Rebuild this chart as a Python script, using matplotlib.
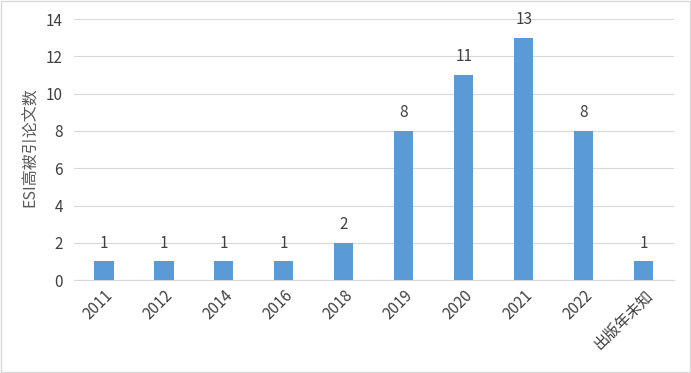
import matplotlib
matplotlib.use("Agg")
import matplotlib.pyplot as plt
from matplotlib.patches import Rectangle

plt.rcParams['font.family'] = ['Noto Sans CJK SC', 'DejaVu Sans']

categories = ["2011", "2012", "2014", "2016", "2018", "2019", "2020", "2021", "2022", "出版年未知"]
values = [1, 1, 1, 1, 2, 8, 11, 13, 8, 1]
yticks = [0, 2, 4, 6, 8, 10, 12, 14]

fig = plt.figure(figsize=(6.91, 3.73), dpi=100)
fig.patches.append(Rectangle((0.0015, 0.0027), 0.997, 0.995, transform=fig.transFigure,
                             fill=False, edgecolor="#d9d9d9", linewidth=1))
ax = fig.add_axes([0.107, 0.249, 0.868, 0.70])

x = list(range(len(categories)))
bars = ax.bar(x, values, width=0.32, color="#5b9bd5", zorder=3)
for xi, v in zip(x, values):
    ax.annotate(str(v), (xi, v), xytext=(0, 7), textcoords="offset points",
                ha="center", va="bottom", fontsize=11, color="#404040")

ax.set_xlim(-0.5, len(categories) - 0.5)
ax.set_ylim(0, 14)
ax.set_yticks(yticks)
ax.grid(axis="y", color="#d9d9d9", linewidth=0.8, zorder=0)
for s in ["top", "right", "left"]:
    ax.spines[s].set_visible(False)
ax.spines["bottom"].set_color("#d9d9d9")
ax.tick_params(axis="both", length=0, labelsize=11, colors="#404040")
ax.tick_params(axis="y", pad=8)
ax.tick_params(axis="x", pad=5)
ax.set_xticks(x)
ax.set_xticklabels(categories, rotation=45, ha="right", rotation_mode="anchor")
ax.set_ylabel("ESI高被引论文数", fontsize=11.5, color="#595959")
ax.yaxis.set_label_coords(-0.058, 0.51)

fig.savefig("out.png", dpi=100)
